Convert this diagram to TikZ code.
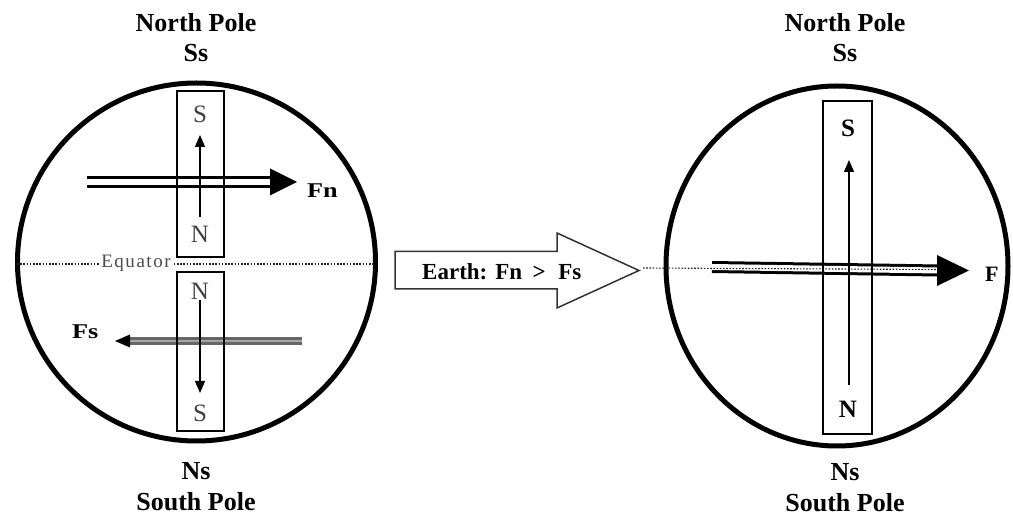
\documentclass[tikz,border=0pt]{standalone}
\usepackage{fontspec}
\usepackage{graphicx}
\setmainfont{Liberation Serif}
\newfontfamily\eqfont[LetterSpace=8]{Liberation Serif}
\usetikzlibrary{arrows.meta}
\begin{document}
\begin{tikzpicture}[x=1pt,y=-1pt,
  title/.style={font=\bfseries\fontsize{26}{26}\selectfont, inner sep=0pt, anchor=base},
  pole/.style={font=\fontsize{25}{25}\selectfont, text=black!75, inner sep=0pt, anchor=base},
  polebf/.style={font=\bfseries\fontsize{25}{25}\selectfont, inner sep=0pt, anchor=base},
  globe/.style={line width=5pt},
  magnet/.style={draw, line width=1.2pt, inner sep=0pt},
  field/.style={line width=1.3pt, -{Triangle[length=12pt,width=10pt]}},
  force/.style={line width=3pt, double=white, double distance=6pt},
  fsforce/.style={line width=2.5pt, draw=black!60, double=black!35, double distance=2.5pt},
  head/.style={fill=black},
  equ/.style={line width=1.1pt, dash pattern=on 1.6pt off 1.6pt, draw=black!85},
  eqlbl/.style={font=\eqfont\fontsize{19}{19}\selectfont, text=black!70, fill=white, inner sep=1pt},
  flbl/.style={font=\bfseries\fontsize{21}{21}\selectfont, inner sep=0pt, anchor=base west},
  blockarrow/.style={draw=black!80, line width=1.5pt, line join=miter},
  earth/.style={font=\bfseries\fontsize{23}{23}\selectfont, inner sep=0pt, anchor=base west}
]
\useasboundingbox (0,0) rectangle (1013,518);
\fill[white] (0,0) rectangle (1013,518);

% ---------- left globe ----------
\node[title] (np1) at (196,32) {North Pole};
\node[title] (ss1) at (196,62) {Ss};
\node[title] (ns1) at (196,480) {Ns};
\node[title] (sp1) at (196,511) {South Pole};
\draw[globe] (196.5,262) circle[radius=179pt];

\draw[equ] (17,264) -- (375,264);
\node[eqlbl] (eq) at (136,263) {Equator};

% forces
\coordinate (fnA) at (87,182);
\coordinate (fnB) at (272,182);
\draw[force] (fnA) -- (fnB);
\fill[head] (fnB) ++(-2,-13.5) -- ++(27,13.5) -- ++(-27,13.5) -- cycle;
\node[flbl] (fn) at (307,198) {\scalebox{1.25}[1]{Fn}};

\coordinate (fsA) at (302,341);
\coordinate (fsB) at (129,341);
\draw[fsforce] (fsA) -- (fsB);
\fill[head] (fsB) ++(1,-6.5) -- ++(-15,6.5) -- ++(15,6.5) -- cycle;
\node[flbl] (fs) at (72,339) {\scalebox{1.25}[1]{Fs}};

% magnets
\node[magnet, minimum width=47pt, minimum height=166pt] (m1) at (200.5,174) {};
\node[magnet, minimum width=47pt, minimum height=159pt] (m2) at (200.5,351.5) {};
\node[pole] (s1) at (200,123) {S};
\node[pole] (n1) at (200,243) {N};
\node[pole] (n2) at (200,300) {N};
\node[pole] (s2) at (200,422) {S};
\coordinate (a1s) at (200,217);
\coordinate (a1e) at (200,135);
\draw[field] (a1s) -- (a1e);
\coordinate (a2s) at (200,300);
\coordinate (a2e) at (200,393);
\draw[field] (a2s) -- (a2e);

% ---------- block arrow ----------
\draw[blockarrow] (395,251.5) -- (557,251.5) -- (557,233) -- (639,270.5) -- (557,308) -- (557,289) -- (395,289) -- cycle;
\node[earth] (earthlbl) at (422,280) {Earth:\hspace{0.35em}Fn\hspace{0.45em}>\hspace{0.55em}Fs};

% ---------- right globe ----------
\node[title] (np2) at (845,32) {North Pole};
\node[title] (ss2) at (845,62) {Ss};
\node[title] (ns2) at (845,481) {Ns};
\node[title] (sp2) at (845,512) {South Pole};
\draw[globe] (837,266) circle[x radius=171pt, y radius=180pt];

\coordinate (fA) at (712,267);
\coordinate (fB) at (938,270.5);
\draw[force] (fA) -- (fB);
\fill[head] (fB) ++(-1,-15.5) -- ++(32,15.5) -- ++(-32,15.5) -- cycle;
\draw[equ] (643,268) -- (936,269.5);
\node[flbl, font=\bfseries\fontsize{22}{22}\selectfont] (f) at (985,282) {F};

\node[magnet, minimum width=49pt, minimum height=333pt] (m3) at (847.5,267.5) {};
\node[polebf] (s3) at (848,137) {S};
\node[polebf] (n3) at (848,418) {N};
\coordinate (a3s) at (849,385);
\coordinate (a3e) at (849,160);
\draw[field] (a3s) -- (a3e);
\end{tikzpicture}
\end{document}
